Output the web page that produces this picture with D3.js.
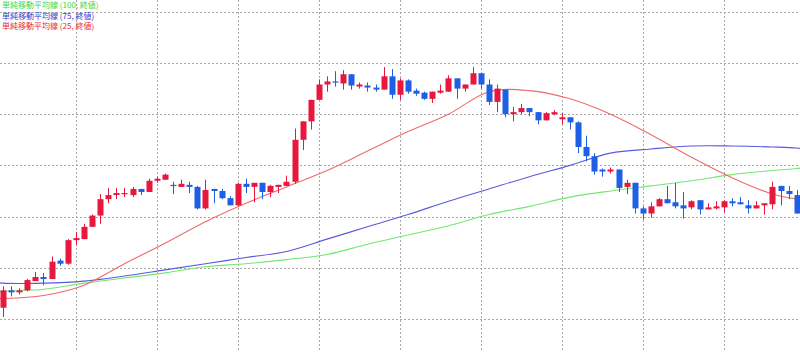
<!DOCTYPE html>
<html>
<head>
<meta charset="utf-8">
<script src="https://cdn.jsdelivr.net/npm/d3@7"></script>
<style>
  html, body { margin: 0; padding: 0; background: #ffffff; }
  svg { display: block; }
</style>
</head>
<body>
<svg id="chart" width="800" height="352"></svg>
<script>
// ---------- data ----------
const candleIndex = d3.range(99);
const opens = [149.11,149.28,149.26,149.28,149.37,149.41,149.39,149.57,149.54,149.77,
  149.78,149.90,150.01,150.17,150.21,150.22,150.21,150.27,150.24,150.35,
  150.36,150.31,150.29,150.31,150.29,150.08,150.27,150.25,150.18,150.11,
  150.32,150.29,150.33,150.24,150.29,150.30,150.34,150.75,150.93,151.14,
  151.29,151.32,151.30,151.39,151.27,151.28,151.26,151.24,151.37,151.19,
  151.33,151.23,151.21,151.15,151.21,151.22,151.35,151.25,151.29,151.40,
  151.29,151.12,151.24,151.00,151.02,151.06,151.02,150.94,151.00,150.95,
  150.97,150.92,150.68,150.59,150.46,150.44,150.46,150.29,150.33,150.08,
  150.03,150.10,150.17,150.14,150.11,150.09,150.16,150.07,150.08,150.09,
  150.15,150.14,150.11,150.08,150.11,150.12,150.30,150.25,150.21];
const highs = [149.32,149.32,149.30,149.39,149.46,149.45,149.61,149.59,149.78,149.85,
  149.93,150.02,150.22,150.28,150.28,150.28,150.29,150.27,150.37,150.39,
  150.42,150.34,150.36,150.34,150.30,150.36,150.27,150.27,150.20,150.33,
  150.37,150.33,150.33,150.31,150.31,150.40,150.86,150.93,151.14,151.34,
  151.37,151.42,151.43,151.39,151.31,151.31,151.29,151.46,151.44,151.35,
  151.34,151.25,151.22,151.22,151.29,151.38,151.35,151.29,151.46,151.40,
  151.34,151.29,151.24,151.07,151.10,151.06,151.02,151.02,151.04,151.01,
  150.97,150.93,150.79,150.62,150.47,150.48,150.46,150.36,150.33,150.10,
  150.14,150.18,150.30,150.33,150.24,150.16,150.16,150.13,150.15,150.16,
  150.18,150.19,150.16,150.15,150.13,150.34,150.30,150.30,150.26];
const lows = [149.02,149.22,149.24,149.27,149.37,149.33,149.39,149.52,149.53,149.72,
  149.78,149.90,149.93,150.13,150.17,150.19,150.19,150.21,150.24,150.33,
  150.36,150.22,150.29,150.23,150.07,150.07,150.13,150.17,150.11,150.10,
  150.23,150.14,150.17,150.19,150.23,150.30,150.32,150.65,150.85,151.14,
  151.22,151.27,151.24,151.24,151.25,151.22,151.22,151.24,151.15,151.14,
  151.20,151.18,151.14,151.11,151.20,151.22,151.15,151.22,151.29,151.25,
  151.09,151.02,150.97,150.93,151.00,150.98,150.90,150.94,150.99,150.90,
  150.85,150.62,150.54,150.41,150.39,150.42,150.24,150.22,150.03,149.97,
  149.99,150.10,150.13,150.08,149.98,150.07,150.02,150.07,150.07,150.04,
  150.10,150.12,150.03,150.08,150.02,150.07,150.11,150.17,150.03];
const closes = [149.28,149.26,149.28,149.38,149.41,149.39,149.56,149.54,149.77,149.79,
  149.90,150.01,150.17,150.21,150.23,150.23,150.27,150.24,150.35,150.37,
  150.41,150.30,150.32,150.29,150.08,150.26,150.25,150.18,150.11,150.32,
  150.29,150.33,150.24,150.30,150.31,150.34,150.75,150.93,151.14,151.29,
  151.32,151.31,151.39,151.28,151.29,151.26,151.24,151.37,151.19,151.33,
  151.22,151.20,151.15,151.22,151.23,151.35,151.25,151.29,151.40,151.29,
  151.12,151.25,151.00,151.02,151.06,151.02,150.94,151.01,151.02,150.97,
  150.92,150.68,150.59,150.44,150.44,150.46,150.28,150.33,150.08,150.03,
  150.10,150.17,150.13,150.10,150.08,150.15,150.07,150.09,150.10,150.15,
  150.13,150.12,150.08,150.11,150.13,150.29,150.25,150.22,150.03];

// moving averages read at sampled candle positions
const maIndex = [-1,0,5,10,15,20,25,30,35,40,45,50,55,60,65,70,75,80,85,90,95,98,99];
const ma25 = [149.20,149.20,149.23,149.33,149.54,149.74,149.95,150.13,150.29,150.45,150.64,150.83,151.00,151.22,151.23,151.15,151.00,150.80,150.58,150.38,150.22,150.17,150.16];
const ma75 = [149.36,149.35,149.35,149.37,149.42,149.48,149.54,149.60,149.66,149.78,149.90,150.02,150.15,150.27,150.39,150.50,150.62,150.66,150.69,150.69,150.68,150.67,150.66];
const ma100 = [149.26,149.27,149.29,149.35,149.40,149.45,149.51,149.54,149.58,149.63,149.73,149.82,149.91,150.02,150.10,150.19,150.25,150.30,150.35,150.41,150.45,150.47,150.48];

const priceTicks = [149, 149.5, 150, 150.5, 151, 151.5, 152];
const gridCandles = [9, 19, 29, 39, 49, 59, 69, 79, 89];

const legendLabels = ["単純移動平均線 (100, 終値)", "単純移動平均線 (75, 終値)", "単純移動平均線 (25, 終値)"];
const legendColors = ["#3ed83e", "#3a3ad0", "#ee2a2a"];

// ---------- drawing ----------
const W = 800, H = 352;
const svg = d3.select("#chart");
const x = d3.scaleLinear().domain([-0.37, 98.4]).range([0, W]);
const y = d3.scaleLinear().domain([148.6777, 152.1152]).range([H, 0]);

const crisp = v => Math.round(v) + 0.5;

// grid
const grid = svg.append("g").attr("stroke", "#a8a8a8").attr("stroke-width", 1).attr("stroke-dasharray", "2,2");
grid.selectAll("line.h").data(priceTicks).join("line").attr("class", "h")
  .attr("x1", 0).attr("x2", W).attr("y1", d => crisp(y(d))).attr("y2", d => crisp(y(d)));
grid.selectAll("line.v").data(gridCandles).join("line").attr("class", "v")
  .attr("y1", 0).attr("y2", H).attr("x1", d => crisp(x(d))).attr("x2", d => crisp(x(d)));

// moving averages
const maSeries = [
  {vals: ma100, color: "#72e872"},
  {vals: ma75, color: "#5a5ade"},
  {vals: ma25, color: "#f06a6a"}
];
const line = d3.line().x(d => x(d[0])).y(d => y(d[1])).curve(d3.curveCatmullRom.alpha(0.5));
svg.append("g").selectAll("path").data(maSeries).join("path")
  .attr("fill", "none").attr("stroke", d => d.color).attr("stroke-width", 1.1)
  .attr("d", d => line(maIndex.map((k, j) => [k, d.vals[j]])));

// candles
const up = "#e8173e", down = "#1e5fe6";
const candles = candleIndex.map(i => ({i, o: opens[i], h: highs[i], l: lows[i], c: closes[i]}));
const cg = svg.append("g").selectAll("g").data(candles).join("g");
cg.append("line")
  .attr("x1", d => crisp(x(d.i))).attr("x2", d => crisp(x(d.i)))
  .attr("y1", d => y(d.h)).attr("y2", d => y(d.l))
  .attr("stroke", d => d.c >= d.o ? up : down).attr("stroke-width", 1);
cg.append("rect")
  .attr("x", d => Math.round(x(d.i)) - 2.5)
  .attr("width", 6)
  .attr("y", d => y(Math.max(d.o, d.c)))
  .attr("height", d => Math.max(1.2, Math.abs(y(d.o) - y(d.c))))
  .attr("fill", d => d.c >= d.o ? up : down);

// legend
svg.append("g").selectAll("text").data(legendLabels).join("text")
  .attr("x", 2).attr("y", (d, k) => 8 + k * 10.5)
  .attr("font-family", "'Noto Sans CJK JP', 'Noto Sans', sans-serif")
  .attr("font-size", 8)
  .attr("fill", (d, k) => legendColors[k])
  .text(d => d);
</script>
</body>
</html>
